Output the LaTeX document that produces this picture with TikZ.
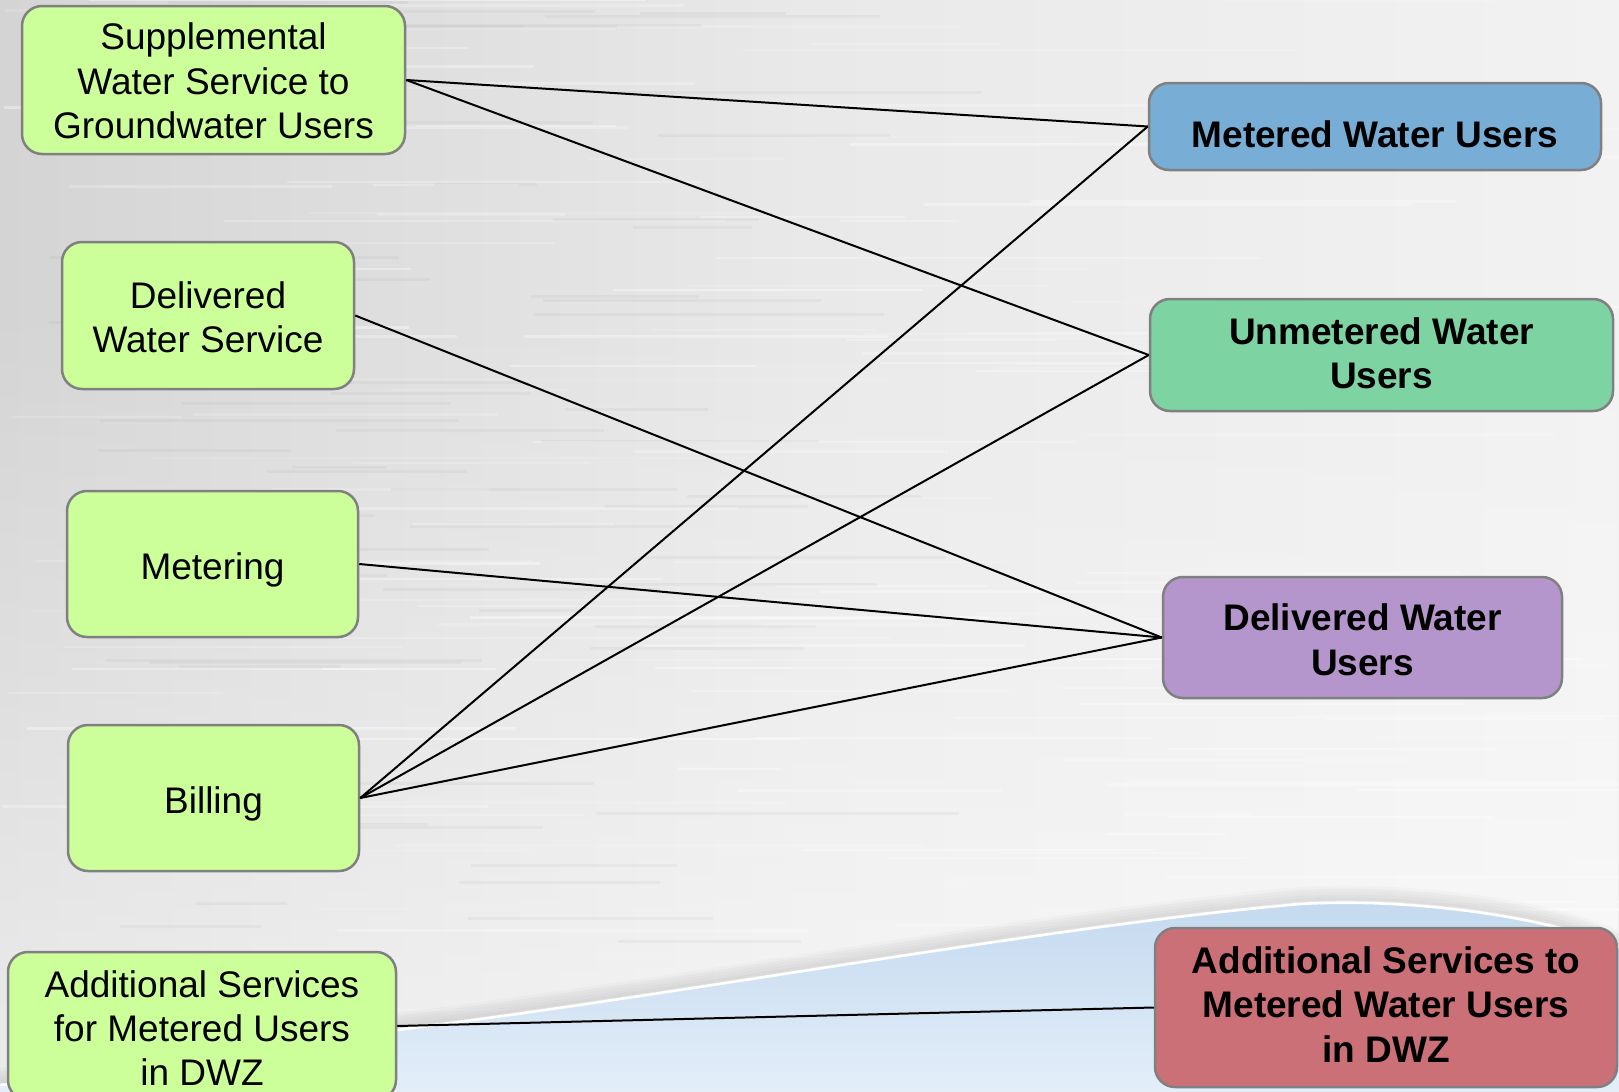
\documentclass[tikz,border=0pt]{standalone}
\usepackage{fontspec}
\setmainfont{Liberation Sans}
\usetikzlibrary{fadings}
\definecolor{leftgreen}{HTML}{CCFF99}
\definecolor{boxline}{HTML}{808080}
\definecolor{mwublue}{HTML}{78ADD6}
\definecolor{uwugreen}{HTML}{7DD3A1}
\definecolor{dwupurple}{HTML}{B496CC}
\definecolor{addrred}{HTML}{CC7077}
\definecolor{bgleft}{HTML}{D4D4D4}
\definecolor{bgmid}{HTML}{E9E9E9}
\definecolor{bgright}{HTML}{F2F2F2}
\definecolor{wavetop}{HTML}{C4D9EF}
\definecolor{wavebot}{HTML}{E3EEF9}
\tikzset{
  box/.style={draw=boxline, line width=1.25pt, rounded corners=10pt, inner sep=0pt},
  leftbox/.style={box, fill=leftgreen},
  rightbox/.style={box},
  lefttxt/.style={align=center, inner sep=0pt, font=\fontsize{18.5}{22.2}\selectfont},
  righttxt/.style={align=center, inner sep=0pt, font=\fontsize{18.5}{22.2}\selectfont\bfseries},
  link/.style={line width=1pt, black}
}
\begin{document}
\begin{tikzpicture}[x=0.5pt, y=-0.5pt]
\useasboundingbox (0,0) rectangle (1619,1092);
% background
\begin{scope}
\clip (0,0) rectangle (1619,1092);
\shade[left color=bgleft, right color=bgright, middle color=bgmid] (0,0) rectangle (1619,1092);
\fill[white, opacity=0.55, path fading=north] (0,300) rectangle (1619,1092);
\pgfmathsetseed{11}
\foreach \i in {1,...,160} {
  \pgfmathsetmacro{\yy}{rnd*1092}
  \pgfmathsetmacro{\xa}{rnd*1400}
  \pgfmathsetmacro{\ll}{100+rnd*500}
  \pgfmathsetmacro{\op}{0.1+rnd*0.3}
  \draw[white, opacity=\op, line width=1.2pt] (\xa,\yy) -- ++(\ll,0);
}
\foreach \i in {1,...,70} {
  \pgfmathsetmacro{\yy}{rnd*1092}
  \pgfmathsetmacro{\xa}{rnd*700}
  \pgfmathsetmacro{\ll}{80+rnd*300}
  \draw[gray, opacity=0.07, line width=1.5pt] (\xa,\yy) -- ++(\ll,0);
}
% wave soft shadow
\foreach \d/\o in {14/0.04,11/0.06,8/0.08,5/0.10,2/0.12} {
  \draw[gray, opacity=\o, line width=3pt] (0,1085-\d) .. controls (200,1070-\d) and (330,1046-\d) .. (397,1030-\d) .. controls (700,992-\d) and (1050,926-\d) .. (1300,904-\d) .. controls (1420,897-\d) and (1560,920-\d) .. (1619,948-\d);
}
\shade[top color=wavetop, bottom color=wavebot]
  (0,1085) .. controls (200,1070) and (330,1046) .. (397,1030) .. controls (700,992) and (1050,926) .. (1300,904) .. controls (1420,897) and (1560,920) .. (1619,948) -- (1619,1092) -- (0,1092) -- cycle;
\draw[white, line width=1.3pt] (0,1085) .. controls (200,1070) and (330,1046) .. (397,1030) .. controls (700,992) and (1050,926) .. (1300,904) .. controls (1420,897) and (1560,920) .. (1619,948);
\end{scope}
% boxes
\node[leftbox, minimum width=191.5pt, minimum height=74pt] (sup) at (213.5,80) {};
\node[leftbox, minimum width=146pt, minimum height=73.5pt] (dws) at (208,315.5) {};
\node[leftbox, minimum width=145.5pt, minimum height=73pt] (met) at (212.5,564) {};
\node[leftbox, minimum width=145.5pt, minimum height=73pt] (bil) at (213.5,798) {};
\node[leftbox, minimum width=194pt, minimum height=74pt] (addl) at (202,1026) {};
\node[rightbox, fill=mwublue, minimum width=226pt, minimum height=43.5pt] (mwu) at (1375,126.5) {};
\node[rightbox, fill=uwugreen, minimum width=231.5pt, minimum height=56pt] (uwu) at (1381.5,355) {};
\node[rightbox, fill=dwupurple, minimum width=199.5pt, minimum height=60.5pt] (dwu) at (1362.5,637.5) {};
\node[rightbox, fill=addrred, minimum width=231pt, minimum height=79.5pt] (addr) at (1386,1007.5) {};
% texts
\node[lefttxt] (tsup) at ([yshift=-0.5pt]sup.center) {Supplemental\\Water Service to\\Groundwater Users};
\node[lefttxt] (tdws) at ([yshift=-0.8pt]dws.center) {Delivered\\Water Service};
\node[lefttxt] (tmet) at ([yshift=-3pt]met.center) {Metering};
\node[lefttxt] (tbil) at ([yshift=-3pt]bil.center) {Billing};
\node[lefttxt] (taddl) at ([yshift=-1pt]addl.center) {Additional Services\\for Metered Users\\in DWZ};
\node[righttxt] (tmwu) at ([yshift=-4pt]mwu.center) {Metered Water Users};
\node[righttxt] (tuwu) at ([yshift=1pt]uwu.center) {Unmetered Water\\Users};
\node[righttxt] (tdwu) at ([yshift=-1.2pt]dwu.center) {Delivered Water\\Users};
\node[righttxt] (taddr) at ([yshift=1.5pt]addr.center) {Additional Services to\\Metered Water Users\\in DWZ};
% connectors
\draw[link] (sup.east) -- (mwu.west);
\draw[link] (sup.east) -- (uwu.west);
\draw[link] (dws.east) -- (dwu.west);
\draw[link] (met.east) -- (dwu.west);
\draw[link] (bil.east) -- (mwu.west);
\draw[link] (bil.east) -- (uwu.west);
\draw[link] (bil.east) -- (dwu.west);
\draw[link] (addl.east) -- (addr.west);
\end{tikzpicture}
\end{document}
